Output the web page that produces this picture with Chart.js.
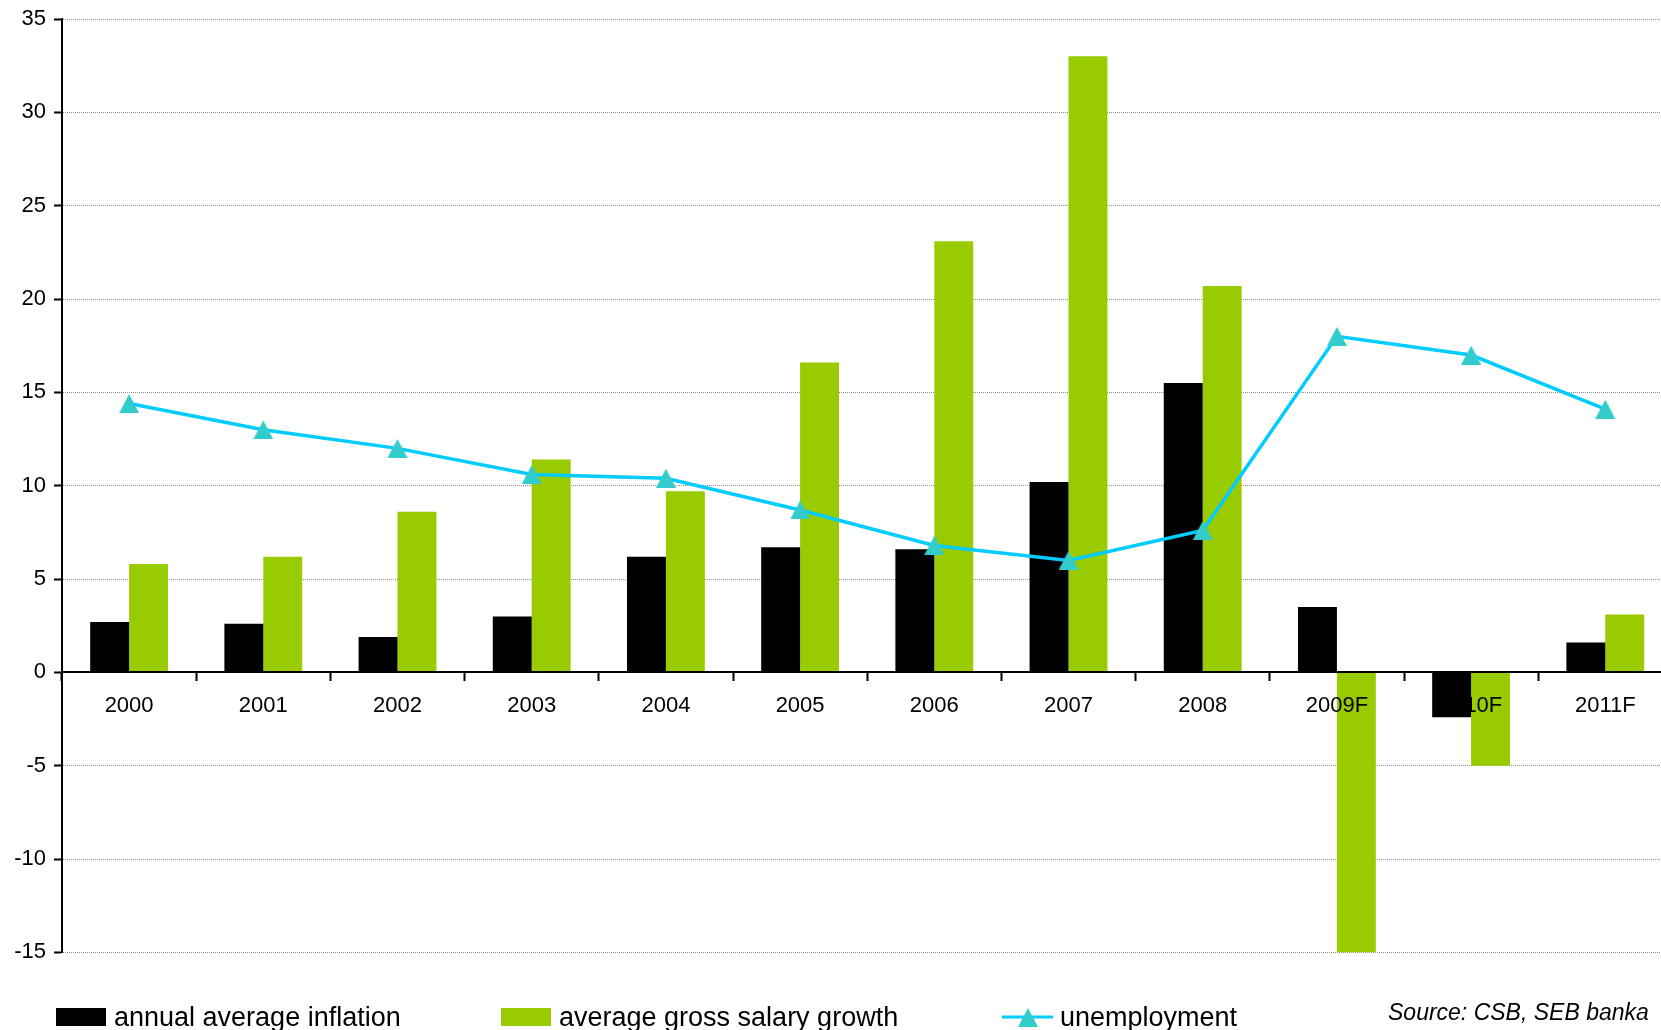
<!DOCTYPE html>
<html>
<head>
<meta charset="utf-8">
<title>Inflation, salary growth and unemployment</title>
<script src="https://cdn.jsdelivr.net/npm/chart.js@4.4.1/dist/chart.umd.min.js"></script>
<style>
  html, body { margin: 0; padding: 0; background: #fff; overflow: hidden; }
  #wrap { width: 1661px; height: 1030px; overflow: hidden; }
</style>
</head>
<body>
<div id="wrap"><canvas id="chart" width="1700" height="1030"></canvas></div>
<script>
let years = ['2000', '2001', '2002', '2003', '2004', '2005', '2006', '2007', '2008', '2009F', '2010F', '2011F'];
let inflation = [2.7, 2.6, 1.9, 3.0, 6.2, 6.7, 6.6, 10.2, 15.5, 3.5, -2.4, 1.6];
let salaryGrowth = [5.8, 6.2, 8.6, 11.4, 9.7, 16.6, 23.1, 33.0, 20.7, -15.0, -5.0, 3.1];
let unemployment = [14.4, 13.0, 12.0, 10.6, 10.4, 8.7, 6.8, 6.0, 7.6, 18.0, 17.0, 14.1];
let yMin = -15, yMax = 35, yStep = 5;
let seriesNames = ['annual average inflation', 'average gross salary growth', 'unemployment'];
let sourceNote = 'Source: CSB, SEB banka';

let font = '"Liberation Sans", Arial, sans-serif';

// triangle marker, used for the points and the legend
let tri = document.createElement('canvas');
tri.width = 20;
tri.height = 19;
let tctx = tri.getContext('2d');
tctx.fillStyle = '#33CCCC';
tctx.beginPath();
tctx.moveTo(10, 0);
tctx.lineTo(20, 19);
tctx.lineTo(0, 19);
tctx.closePath();
tctx.fill();

let bottomLegend = {
  id: 'bottomLegend',
  afterDraw: function(chart) {
    let ctx = chart.ctx;
    let xs = [56, 501, 1002];
    ctx.save();
    ctx.font = '27px ' + font;
    ctx.textBaseline = 'alphabetic';
    chart.data.datasets.forEach(function(ds, i) {
      let x = xs[i];
      if (ds.type === 'line') {
        ctx.strokeStyle = ds.borderColor;
        ctx.lineWidth = 3;
        ctx.beginPath();
        ctx.moveTo(x, 1017);
        ctx.lineTo(x + 51, 1017);
        ctx.stroke();
        ctx.drawImage(tri, x + 16, 1008);
      } else {
        ctx.fillStyle = ds.backgroundColor;
        ctx.fillRect(x, 1008, 50, 18);
      }
      ctx.fillStyle = '#000';
      ctx.fillText(ds.label, x + 58, 1026);
    });
    ctx.font = 'italic 23px ' + font;
    ctx.fillText(sourceNote, 1388, 1020);
    ctx.restore();
  }
};

new Chart(document.getElementById('chart'), {
  type: 'bar',
  data: {
    labels: years,
    datasets: [{
      label: seriesNames[0],
      data: inflation,
      backgroundColor: '#000000',
      order: 1
    }, {
      label: seriesNames[1],
      data: salaryGrowth,
      backgroundColor: '#99CC00',
      order: 1
    }, {
      type: 'line',
      label: seriesNames[2],
      data: unemployment,
      borderColor: '#00CCFF',
      borderWidth: 3.5,
      pointStyle: tri,
      pointRadius: 10,
      order: 0
    }]
  },
  options: {
    responsive: false,
    animation: false,
    layout: { padding: { left: 0, right: 27.6, top: 19, bottom: 77.6 } },
    datasets: {
      bar: { categoryPercentage: 0.58, barPercentage: 1, borderWidth: 0 }
    },
    plugins: {
      legend: { display: false },
      tooltip: { enabled: false }
    },
    scales: {
      x: {
        position: { y: 0 },
        offset: true,
        grid: { offset: true, drawOnChartArea: false, tickLength: 8, tickColor: '#000', tickWidth: 2, z: 1 },
        border: { color: '#000', width: 2, z: 1 },
        ticks: { color: '#000', font: { family: font, size: 22 }, padding: 12, maxRotation: 0, autoSkip: false, z: 1 }
      },
      y: {
        min: yMin,
        max: yMax,
        ticks: { stepSize: yStep, color: '#000', font: { family: font, size: 22 }, padding: 8 },
        grid: { color: '#8c8c8c', lineWidth: 1, tickColor: '#000', tickWidth: 2, tickLength: 8 },
        border: { color: '#000', width: 2, dash: [1, 1] },
        afterFit: function(scale) {
          scale.width = 62;
          scale.paddingTop = 0;
          scale.paddingBottom = 0;
        }
      }
    }
  },
  plugins: [bottomLegend]
});
</script>
</body>
</html>
